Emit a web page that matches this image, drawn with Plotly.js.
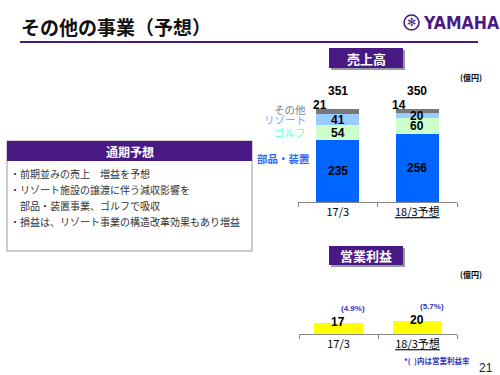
<!DOCTYPE html>
<html><head><meta charset="utf-8">
<script src="https://cdn.plot.ly/plotly-3.0.1.min.js"></script>
<style>html,body{margin:0;padding:0;background:#fff;}#c{width:500px;height:375px;}</style>
</head><body><div id="c"></div>
<script>
// ---- data ----
const categories = ["17/3", "18/3予想"];
const categoryLabels = ["17/3", "<u>18/3予想</u>"];
const segmentNames = ["部品・装置", "ゴルフ", "リゾート", "その他"];
const partsValues = [235, 256];
const golfValues = [54, 60];
const resortValues = [41, 20];
const otherValues = [21, 14];
const salesTotals = [351, 350];
const profitValues = [17, 20];
const profitRates = ["(4.9%)", "(5.7%)"];
const bullets = [
  "・前期並みの売上　増益を予想",
  "・リゾート施設の譲渡に伴う減収影響を",
  "　部品・装置事業、ゴルフで吸収",
  "・損益は、リゾート事業の構造改革効果もあり増益"
];

// ---- style ----
const W = 500, H = 375;
const px = x => x / W, py = y => 1 - y / H;
const JP = "'Noto Sans CJK JP', sans-serif";
const NUM = "'Liberation Sans', Arial, sans-serif";
const PURPLE = "#4a1a84";
const segColors = ["#0066ff", "#ccffcc", "#99ccff", "#777777"];
const labelColors = ["#3366ff", "#66ffcc", "#77aaff", "#808080"];

const segValues = [partsValues, golfValues, resortValues, otherValues];
const traces = segValues.map((vals, i) => ({
  type: "bar", x: categories, y: vals, name: segmentNames[i],
  marker: {color: segColors[i], line: {width: 0}},
  width: 0.54, textposition: "none",
  hoverinfo: "none", xaxis: "x", yaxis: "y"
}));
traces.push({
  type: "bar", x: categories, y: profitValues, marker: {color: "#ffff00"}, width: 0.62,
  textposition: "none", hoverinfo: "none", xaxis: "x2", yaxis: "y2"
});

const annotations = [];
const shapes = [];
function ann(o) { annotations.push(Object.assign({showarrow: false, xanchor: "center", yanchor: "middle"}, o)); }
const boldNum = {family: NUM, size: 12, color: "#000", weight: "bold"};

categories.forEach((c, i) => {
  // segment values (bottom three inside bars)
  let base = 0;
  [partsValues, golfValues, resortValues].forEach(vals => {
    ann({xref: "x", yref: "y", x: c, y: base + vals[i] / 2, text: String(vals[i]), font: boldNum});
    base += vals[i];
  });
  // その他 value, left of bar top
  ann({xref: "x", yref: "y", x: c, y: base + otherValues[i], text: String(otherValues[i]),
    xshift: -18, yshift: 4, font: boldNum});
  // totals
  ann({xref: "x", yref: "y", x: c, y: salesTotals[i], text: String(salesTotals[i]),
    yanchor: "bottom", yshift: 9, font: boldNum});
  // profit
  ann({xref: "x2", yref: "y2", x: c, y: profitValues[i], text: String(profitValues[i]),
    xshift: -1, yshift: 1, font: boldNum});
  ann({xref: "x2", yref: "y2", x: c, y: profitValues[i], text: profitRates[i],
    xshift: 14, yshift: 15, font: {family: NUM, size: 8, color: "#3333bb", weight: "bold"}});
});
// segment legend labels (left of first bar)
const legY = [165, partsValues[0] + golfValues[0] / 2, partsValues[0] + golfValues[0] + resortValues[0] / 2,
  partsValues[0] + golfValues[0] + resortValues[0] + otherValues[0] / 2 + 10];
segmentNames.forEach((n, i) => {
  ann({xref: "paper", yref: "y", x: px(i === 0 ? 312 : 308), y: legY[i], text: n, xanchor: "right",
    font: {family: JP, size: 10.5, color: labelColors[i], weight: i === 0 ? "bold" : "normal"}});
});

// header
ann({xref: "paper", yref: "paper", x: px(19), y: py(27), xanchor: "left",
  text: "その他の事業（予想）", font: {family: JP, size: 19, color: "#111", weight: "bold"}});
shapes.push({type: "line", xref: "paper", yref: "paper", x0: px(20), x1: px(478), y0: py(42), y1: py(42),
  line: {color: PURPLE, width: 2}});
// logo
shapes.push({type: "circle", xref: "paper", yref: "paper", x0: px(404), x1: px(419), y0: py(30), y1: py(15),
  line: {color: PURPLE, width: 1.6}});
ann({xref: "paper", yref: "paper", x: px(411.5), y: py(22.5), text: "✻",
  font: {family: "DejaVu Sans", size: 11, color: PURPLE}});
ann({xref: "paper", yref: "paper", x: px(421), y: py(23), xanchor: "left", text: "YAMAHA",
  font: {family: "'DejaVu Sans Condensed', 'Liberation Sans Narrow', sans-serif", size: 17.5, color: PURPLE, weight: "bold"}});

// title boxes
function titleBox(x0, y0, x1, y1, txt) {
  shapes.push({type: "rect", xref: "paper", yref: "paper", x0: px(x0 + 2), x1: px(x1 + 2), y0: py(y0 + 2), y1: py(y1 + 2),
    fillcolor: "#9a9a9a", line: {width: 0}});
  shapes.push({type: "rect", xref: "paper", yref: "paper", x0: px(x0), x1: px(x1), y0: py(y0), y1: py(y1),
    fillcolor: PURPLE, line: {width: 0}});
  ann({xref: "paper", yref: "paper", x: px((x0 + x1) / 2), y: py((y0 + y1) / 2), text: txt,
    font: {family: JP, size: 13, color: "#fff", weight: "bold"}});
}
titleBox(329, 48, 403, 68, "売上高");
titleBox(329, 246, 403, 265, "営業利益");
// units
ann({xref: "paper", yref: "paper", x: px(471), y: py(78), text: "(億円)",
  font: {family: JP, size: 8, color: "#000", weight: "bold"}});
ann({xref: "paper", yref: "paper", x: px(471), y: py(274), text: "(億円)",
  font: {family: JP, size: 8, color: "#000", weight: "bold"}});

// left box
shapes.push({type: "rect", xref: "paper", yref: "paper", x0: px(7), x1: px(252), y0: py(141), y1: py(251),
  fillcolor: "#fff", line: {color: "#999", width: 1}});
shapes.push({type: "rect", xref: "paper", yref: "paper", x0: px(7), x1: px(252), y0: py(141), y1: py(161),
  fillcolor: PURPLE, line: {width: 0}});
ann({xref: "paper", yref: "paper", x: px(130), y: py(151), text: "通期予想",
  font: {family: JP, size: 12, color: "#fff", weight: "bold"}});
bullets.forEach((b, i) => {
  ann({xref: "paper", yref: "paper", x: px(8), y: py(173 + i * 16), xanchor: "left",
    text: b, font: {family: JP, size: 10, color: "#333"}});
});

// footnote + page
ann({xref: "paper", yref: "paper", x: px(402), y: py(360), xanchor: "left", text: "*(  )内は営業利益率",
  font: {family: JP, size: 7.5, color: "#3333bb", weight: "bold"}});
ann({xref: "paper", yref: "paper", x: px(495), y: py(368), xanchor: "right", text: "21",
  font: {family: NUM, size: 12, color: "#222"}});

const xCommon = {type: "category", showgrid: false, zeroline: false, showline: true, linecolor: "#888", linewidth: 1,
  ticks: "outside", tickson: "boundaries", ticklen: 4, tickcolor: "#888", tickvals: categories, ticktext: categoryLabels,
  tickfont: {family: JP, size: 11, color: "#000"}, range: [-0.5, 1.5], fixedrange: true};
const layout = {
  width: W, height: H, margin: {l: 0, r: 0, t: 0, b: 0}, paper_bgcolor: "#fff", plot_bgcolor: "rgba(0,0,0,0)",
  showlegend: false, barmode: "stack", bargap: 0,
  xaxis: Object.assign({}, xCommon, {domain: [px(298), px(457)], anchor: "y"}),
  yaxis: {domain: [py(202), py(80)], range: [0, 460], visible: false, anchor: "x"},
  xaxis2: Object.assign({}, xCommon, {domain: [px(299), px(457)], anchor: "y2"}),
  yaxis2: {domain: [py(334), py(290)], range: [0, 68], visible: false, anchor: "x2"},
  annotations: annotations, shapes: shapes
};
Plotly.newPlot("c", traces, layout, {staticPlot: true});
</script></body></html>
